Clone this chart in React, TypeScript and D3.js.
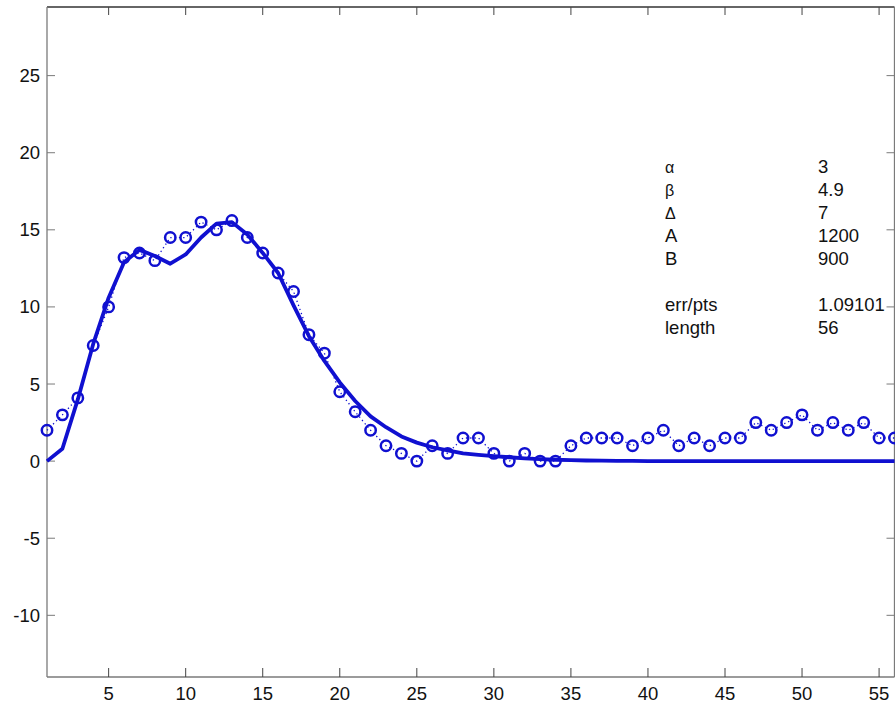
import React from "react";
import * as d3 from "d3";

const xValues: number[] = Array.from({ length: 56 }, (_, i) => i + 1);
const observed: number[] = [
  2, 3, 4.1, 7.5, 10, 13.2, 13.5, 13, 14.5, 14.5,
  15.5, 15, 15.6, 14.5, 13.5, 12.2, 11, 8.2, 7, 4.5,
  3.2, 2, 1, 0.5, 0, 1, 0.5, 1.5, 1.5, 0.5,
  0, 0.5, 0, 0, 1, 1.5, 1.5, 1.5, 1, 1.5,
  2, 1, 1.5, 1, 1.5, 1.5, 2.5, 2, 2.5, 3,
  2, 2.5, 2, 2.5, 1.5, 1.5,
];
const fitted: number[] = [
  0, 0.8, 4.0, 7.6, 10.6, 12.9, 13.7, 13.3, 12.8, 13.4,
  14.5, 15.4, 15.5, 14.7, 13.5, 12.2, 10.1, 8.1, 6.5, 5.1,
  3.9, 2.9, 2.2, 1.6, 1.2, 0.9, 0.7, 0.5, 0.4, 0.32,
  0.25, 0.18, 0.13, 0.09, 0.06, 0.04, 0.03, 0.02, 0.01, 0,
  0, 0, 0, 0, 0, 0, 0, 0, 0, 0,
  0, 0, 0, 0, 0, 0,
];
const xTicks: number[] = [5, 10, 15, 20, 25, 30, 35, 40, 45, 50, 55];
const yTicks: number[] = [-10, -5, 0, 5, 10, 15, 20, 25];
const paramLabels: string[] = ["α", "β", "Δ", "A", "B", "", "err/pts", "length"];
const paramValues: string[] = ["3", "4.9", "7", "1200", "900", "", "1.09101", "56"];

const W = 895;
const H = 709;
const left = 47;
const right = 894.5;
const top = 7;
const bottom = 677;
const BLUE = "#1010d0";
const AXIS = "#7a7a7a";
const FONT = "Arial, 'Liberation Sans', sans-serif";

export default function App() {
  const x = d3.scaleLinear().domain([1, 56]).range([left, right]);
  const y = d3.scaleLinear().domain([-14, 29.45]).range([bottom, top]);

  const obsPts: [number, number][] = xValues.map((v, i) => [v, observed[i]]);
  const fitPts: [number, number][] = xValues.map((v, i) => [v, fitted[i]]);
  const line = d3
    .line<[number, number]>()
    .x((d) => x(d[0]))
    .y((d) => y(d[1]));

  return (
    <svg
      width={W}
      height={H}
      style={{ position: "absolute", left: 0, top: 0, background: "#fff" }}
    >
      <rect x={0} y={0} width={W} height={H} fill="#fff" />
      {/* axes box */}
      <line x1={left} y1={top} x2={right} y2={top} stroke="#333" strokeWidth={1.3} />
      <line x1={left} y1={bottom} x2={right} y2={bottom} stroke={AXIS} strokeWidth={1.3} />
      <line x1={left} y1={top} x2={left} y2={bottom} stroke={AXIS} strokeWidth={1.3} />
      <line x1={right} y1={top} x2={right} y2={bottom} stroke={AXIS} strokeWidth={1.3} />
      {/* x ticks */}
      {xTicks.map((t) => (
        <g key={"xt" + t}>
          <line x1={x(t)} x2={x(t)} y1={bottom} y2={bottom - 9} stroke="#444" strokeWidth={1} />
          <line x1={x(t)} x2={x(t)} y1={top} y2={top + 8} stroke="#444" strokeWidth={1} />
          <text
            x={x(t)}
            y={700}
            textAnchor="middle"
            fontFamily={FONT}
            fontSize={18.5}
            fill="#111"
          >
            {t}
          </text>
        </g>
      ))}
      {/* y ticks */}
      {yTicks.map((t) => (
        <g key={"yt" + t}>
          <line x1={left} x2={left + 8} y1={y(t)} y2={y(t)} stroke={AXIS} strokeWidth={1} />
          <line x1={right} x2={right - 8} y1={y(t)} y2={y(t)} stroke={AXIS} strokeWidth={1} />
          <text
            x={40}
            y={y(t) + 6.5}
            textAnchor="end"
            fontFamily={FONT}
            fontSize={18.5}
            fill="#111"
          >
            {t}
          </text>
        </g>
      ))}
      {/* dotted observed line */}
      <path
        d={line(obsPts) || ""}
        fill="none"
        stroke={BLUE}
        strokeWidth={1.3}
        strokeDasharray="1.3,3"
      />
      {/* fitted curve */}
      <path
        d={line(fitPts) || ""}
        fill="none"
        stroke={BLUE}
        strokeWidth={3.8}
        strokeLinejoin="round"
      />
      {/* markers */}
      {obsPts.map((p, i) => (
        <circle
          key={"c" + i}
          cx={x(p[0])}
          cy={y(p[1])}
          r={5.2}
          fill="none"
          stroke={BLUE}
          strokeWidth={2.5}
        />
      ))}
      {/* parameter text */}
      {paramLabels.map((lab, i) => {
        const greek = i < 3;
        return (
          <g key={"p" + i}>
            <text
              x={665}
              y={173 + i * 23}
              fontFamily={FONT}
              fontSize={greek ? 16 : 18.5}
              fill="#111"
            >
              {lab}
            </text>
            <text x={818} y={173 + i * 23} fontFamily={FONT} fontSize={18.5} fill="#111">
              {paramValues[i]}
            </text>
          </g>
        );
      })}
    </svg>
  );
}
